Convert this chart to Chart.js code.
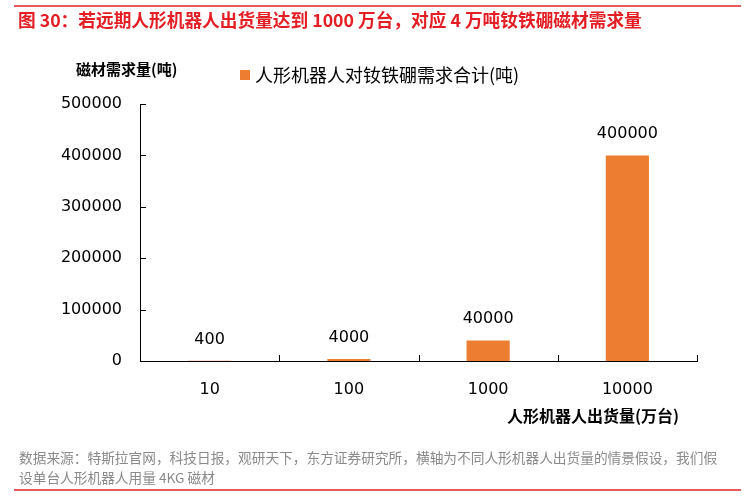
<!DOCTYPE html>
<html>
<head>
<meta charset="utf-8">
<script src="https://cdn.jsdelivr.net/npm/chart.js@4"></script>
<style>
  html, body { margin:0; padding:0; background:#fff; }
  body { width:749px; height:496px; position:relative; overflow:hidden; font-family:"Noto Sans CJK SC", sans-serif; }
  #wrap { position:absolute; left:0; top:0; width:749px; height:496px; }
  .rule { position:absolute; left:14px; width:727px; height:2px; background:#e8585c; }
  #title { position:absolute; left:18px; top:6px; font-size:17.7px; line-height:26px; color:#e31e24; font-weight:bold; white-space:nowrap; }
  #ylab { position:absolute; left:76px; top:58px; font-size:15px; line-height:22px; font-weight:bold; color:#000; white-space:nowrap; }
  #legend { position:absolute; left:240px; top:61px; font-size:18px; line-height:26px; color:#000; white-space:nowrap; }
  #legend i { display:inline-block; width:10px; height:10px; background:#ed7d31; margin-right:5px; vertical-align:2px; }
  #xlab { position:absolute; left:507px; top:404px; font-size:16px; line-height:23px; font-weight:bold; color:#000; white-space:nowrap; }
  #foot { position:absolute; left:19px; top:447px; width:730px; font-size:13.7px; line-height:20px; color:#8a8a8a; white-space:nowrap; }
</style>
</head>
<body>
<div id="wrap"><canvas id="c" width="749" height="496"></canvas></div>
<div class="rule" style="top:5px"></div>
<div id="title">图 30：若远期人形机器人出货量达到 1000 万台，对应 4 万吨钕铁硼磁材需求量</div>
<div id="ylab">磁材需求量(吨)</div>
<div id="legend"><i></i>人形机器人对钕铁硼需求合计(吨)</div>
<div id="xlab">人形机器人出货量(万台)</div>
<div id="foot">数据来源：特斯拉官网，科技日报，观研天下，东方证券研究所，横轴为不同人形机器人出货量的情景假设，我们假<br>设单台人形机器人用量 4KG 磁材</div>
<div class="rule" style="top:489px"></div>
<script>
// categories (万台) and demand (吨)
const shipments = ['10', '100', '1000', '10000'];
const demand = [400, 4000, 40000, 400000];
const yTicks = [0, 100000, 200000, 300000, 400000, 500000];

const numFont = { family: '"DejaVu Sans", sans-serif', size: 16 };

// value labels above bars
const barLabels = {
  id: 'barLabels',
  afterDatasetsDraw(chart){
    const { ctx } = chart;
    const meta = chart.getDatasetMeta(0);
    ctx.save();
    ctx.fillStyle = '#000';
    ctx.font = '16px "DejaVu Sans", sans-serif';
    ctx.textAlign = 'center';
    ctx.textBaseline = 'alphabetic';
    meta.data.forEach((bar, i) => {
      ctx.fillText(String(demand[i]), bar.x, bar.y - 17);
    });
    ctx.restore();
  }
};

// inward tick marks (excel style)
const innerTicks = {
  id: 'innerTicks',
  afterDraw(chart){
    const { ctx, chartArea, scales } = chart;
    const len = 6;
    ctx.save();
    ctx.strokeStyle = '#000';
    ctx.lineWidth = 1;
    ctx.beginPath();
    scales.y.ticks.forEach((t, i) => {
      const y = Math.round(scales.y.getPixelForTick(i)) + 0.5;
      ctx.moveTo(chartArea.left, y);
      ctx.lineTo(chartArea.left + len, y);
    });
    const n = scales.x.ticks.length;
    for (let i = 1; i <= n; i++) {
      const x = i < n
        ? (scales.x.getPixelForTick(i - 1) + scales.x.getPixelForTick(i)) / 2
        : chartArea.right;
      const px = Math.round(x) + 0.5;
      ctx.moveTo(px, chartArea.bottom);
      ctx.lineTo(px, chartArea.bottom - len);
    }
    ctx.stroke();
    ctx.restore();
  }
};

new Chart(document.getElementById('c'), {
  type: 'bar',
  data: {
    labels: shipments,
    datasets: [{
      label: '人形机器人对钕铁硼需求合计(吨)',
      data: demand,
      backgroundColor: '#ed7d31',
      borderWidth: 0,
      categoryPercentage: 1,
      barPercentage: 0.31
    }]
  },
  options: {
    responsive: false,
    animation: false,
    layout: { padding: { left: 0, right: 52, top: 104, bottom: 0 } },
    plugins: { legend: { display: false }, tooltip: { enabled: false } },
    scales: {
      x: {
        grid: { display: false },
        border: { color: '#000', width: 1 },
        ticks: { color: '#000', font: numFont, padding: 11, maxRotation: 0 },
        afterFit: s => { s.height = 135; }
      },
      y: {
        min: 0,
        max: 500000,
        afterBuildTicks: s => { s.ticks = yTicks.map(v => ({ value: v })); },
        grid: { display: false },
        border: { color: '#000', width: 1 },
        ticks: { color: '#000', font: numFont, padding: 10, callback: v => String(v) },
        afterFit: s => { s.width = 140; }
      }
    }
  },
  plugins: [barLabels, innerTicks]
});
</script>
</body>
</html>
